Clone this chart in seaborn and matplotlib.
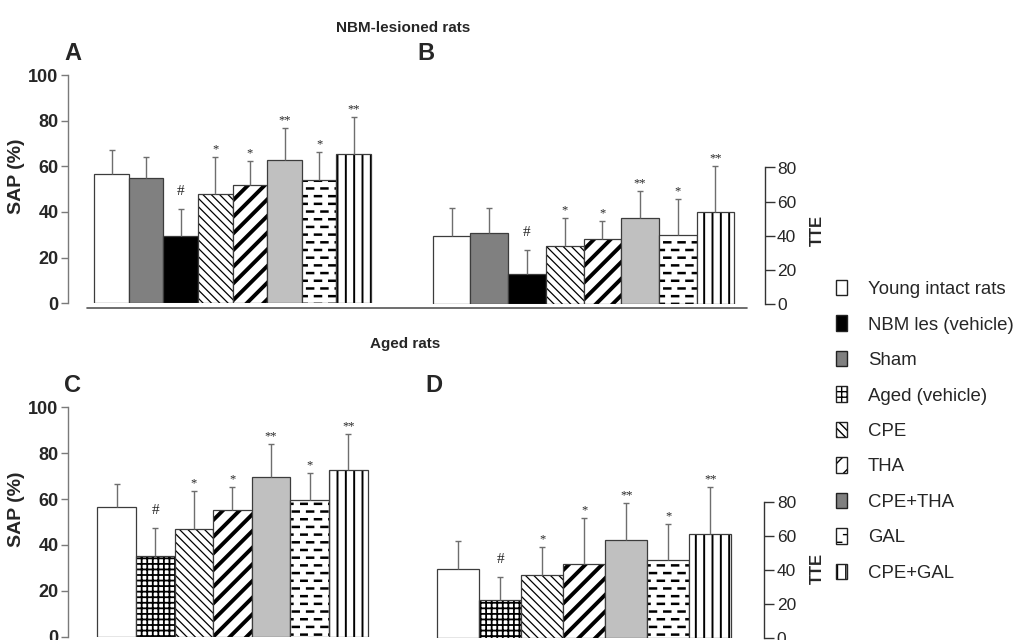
import warnings
import numpy as np
import pandas as pd
import matplotlib
matplotlib.use("Agg")
import matplotlib.pyplot as plt
import matplotlib.hatch as mhatch
from matplotlib.lines import Line2D
from matplotlib.patches import Patch
from matplotlib.path import Path
import seaborn as sns

warnings.filterwarnings("ignore")

# ---------------- data ----------------
lesion_groups = ["Young intact rats", "Sham", "NBM les (vehicle)", "CPE", "THA",
                 "CPE+THA", "GAL", "CPE+GAL"]
aged_groups = ["Young intact rats", "Aged (vehicle)", "CPE", "THA",
               "CPE+THA", "GAL", "CPE+GAL"]

sap_lesion_mean = [56.8, 54.9, 29.3, 48.0, 51.8, 62.8, 54.2, 65.4]
sap_lesion_sem = [10.2, 9.2, 12.2, 16.1, 10.4, 13.8, 11.9, 16.1]
tte_lesion_mean = [40.1, 41.5, 17.7, 34.1, 38.4, 50.5, 40.3, 54.2]
tte_lesion_sem = [16.0, 14.6, 14.1, 16.4, 10.5, 15.9, 21.5, 26.5]

sap_aged_mean = [56.7, 35.3, 47.1, 55.2, 69.5, 59.4, 72.5]
sap_aged_sem = [9.7, 12.1, 16.4, 10.1, 14.5, 12.0, 15.7]
tte_aged_mean = [40.2, 22.2, 36.9, 43.2, 57.5, 45.5, 61.0]
tte_aged_sem = [16.7, 13.7, 16.5, 27.4, 21.7, 21.4, 27.4]

lesion_marks = ["", "", "#", "*", "*", "**", "*", "**"]
aged_marks = ["", "#", "*", "*", "**", "*", "**"]

legend_labels = ["Young intact rats", "NBM les (vehicle)", "Sham", "Aged (vehicle)",
                 "CPE", "THA", "CPE+THA", "GAL", "CPE+GAL"]
sap_ticks = [0, 20, 40, 60, 80, 100]
tte_ticks = [0, 20, 40, 60, 80]


# ------------- custom dashed hatch ('d') -------------
class DashHatch(mhatch.HatchPatternBase):
    def __init__(self, hatch, density):
        self.nr, self.nc = 13, 7
        self.num_vertices = self.nr * self.nc * 2 if hatch.count("d") else 0

    def set_vertices_and_codes(self, vertices, codes):
        k = 0
        for i in range(self.nr):
            y = (i + 0.5) / self.nr
            off = 0.5 if i % 2 else 0.05
            for j in range(self.nc):
                x0 = (j + off) / self.nc
                x1 = x0 + 0.42 / self.nc
                vertices[k] = (x0, y)
                vertices[k + 1] = (x1, y)
                codes[k] = Path.MOVETO
                codes[k + 1] = Path.LINETO
                k += 2


mhatch._hatch_types.append(DashHatch)

# style: facecolor, hatch, hatch linewidth
style = {
    "Young intact rats": ("white", "", 1.0),
    "Sham": ("#808080", "", 1.0),
    "NBM les (vehicle)": ("black", "", 1.0),
    "Aged (vehicle)": ("white", "+++", 1.3),
    "CPE": ("white", "\\\\\\\\", 0.9),
    "THA": ("white", "//", 2.8),
    "CPE+THA": ("#c0c0c0", "", 1.0),
    "GAL": ("white", "d", 1.8),
    "CPE+GAL": ("white", "||", 1.4),
}
legend_face = {"CPE+THA": "#808080"}

sns.set_theme(style="white")
plt.rcParams["font.family"] = ["Liberation Sans", "DejaVu Sans"]

W, H = 1013, 640
fig = plt.figure(figsize=(W / 100, H / 100), dpi=100)


def px_axes(l, t, r, b):
    return fig.add_axes([l / W, 1 - b / H, (r - l) / W, (b - t) / H])


def set_hatch(p, hatch, hlw):
    p.set_hatch(hatch)
    if hasattr(p, "set_hatch_linewidth"):
        p.set_hatch_linewidth(hlw)
    if hasattr(p, "set_hatchcolor"):
        p.set_hatchcolor("black")
    else:
        p._hatch_color = (0, 0, 0, 1)


def draw(ax, groups, mean, sem, marks):
    df = pd.DataFrame({"group": groups, "value": mean})
    pal = {g: style[g][0] for g in groups}
    sns.barplot(data=df, x="group", y="value", hue="group", order=groups,
                hue_order=groups, palette=pal, width=1.0, saturation=1,
                edgecolor="#3c3c3c", linewidth=0.9, legend=False,
                errorbar=None, ax=ax)
    for p, g in zip(ax.patches, groups):
        set_hatch(p, style[g][1], style[g][2])
    x = np.arange(len(groups))
    eb = ax.errorbar(x, mean, yerr=[np.zeros(len(groups)), sem], fmt="none",
                     ecolor="#6e6e6e", elinewidth=1.0, capsize=2.3,
                     capthick=1.0, zorder=3)
    eb[1][0].set_visible(False)
    for xi, m, s, mk in zip(x, mean, sem, marks):
        if not mk:
            continue
        if mk == "#":
            ax.annotate(mk, (xi, m + s), xytext=(0, 12.5), textcoords="offset points",
                        ha="center", va="center", fontsize=11,
                        family=["Liberation Serif", "DejaVu Serif"])
        else:
            ax.annotate(mk, (xi, m + s), xytext=(0, 5.5), textcoords="offset points",
                        ha="center", va="center", fontsize=9,
                        family=["Liberation Serif", "DejaVu Serif"])
    ax.set_xticks([])
    ax.set_xlabel("")
    ax.set_ylabel("")
    ax.set_facecolor("none")
    for s in ("top", "bottom"):
        ax.spines[s].set_visible(False)


def left_axis(ax):
    ax.spines["right"].set_visible(False)
    ax.spines["left"].set_color("#7a7a7a")
    ax.spines["left"].set_linewidth(1.0)
    ax.spines["left"].set_bounds(0, 100)
    ax.set_ylim(0, 100)
    ax.set_yticks(sap_ticks, labels=[str(t) for t in sap_ticks], fontweight="bold")
    ax.tick_params(axis="y", left=True, direction="out", length=5, width=1.0,
                   color="#7a7a7a", labelsize=13, pad=2)
    ax.set_ylabel("SAP (%)", fontsize=14, fontweight="bold")
    ax.yaxis.set_label_coords(-0.139, 0.555)


def right_axis(ax, ymax, label_y):
    ax.spines["left"].set_visible(False)
    ax.spines["right"].set_visible(True)
    ax.spines["right"].set_color("#333333")
    ax.spines["right"].set_linewidth(1.0)
    ax.spines["right"].set_bounds(0, 80)
    ax.set_ylim(0, ymax)
    ax.yaxis.tick_right()
    ax.yaxis.set_label_position("right")
    ax.set_yticks(tte_ticks, labels=[str(t) for t in tte_ticks])
    ax.tick_params(axis="y", right=True, left=False, direction="out", length=7,
                   width=1.0, color="#333333", labelsize=12.5, pad=2)
    ax.set_ylabel("TTE", fontsize=12, fontweight="bold", rotation=90)
    ax.yaxis.set_label_coords(1.132, label_y)


# Panel A
axA = px_axes(68.3, 75.0, 379.7, 303.3)
draw(axA, lesion_groups, sap_lesion_mean, sap_lesion_sem, lesion_marks)
axA.set_xlim(-1.25, 7.75)
left_axis(axA)

# Panel B
axB = px_axes(420, 75.8, 764.5, 304.3)
draw(axB, lesion_groups, tte_lesion_mean, tte_lesion_sem, lesion_marks)
axB.set_xlim(-0.837, 8.30)
right_axis(axB, 228.5 / 1.71, 0.325)

# Panel C
axC = px_axes(68.3, 407.3, 380, 636.7)
draw(axC, aged_groups, sap_aged_mean, sap_aged_sem, aged_marks)
axC.set_xlim(-1.25, 6.82)
left_axis(axC)

# Panel D
axD = px_axes(420, 408.3, 764.3, 637.7)
draw(axD, aged_groups, tte_aged_mean, tte_aged_sem, aged_marks)
axD.set_xlim(-0.912, 7.286)
right_axis(axD, 229.4 / 1.70, 0.30)

# baseline under top row
fig.add_artist(Line2D([86.7 / W, 746.7 / W], [1 - 308.3 / H] * 2,
                      color="#555555", lw=1.2))

# titles and panel letters
fig.text(403 / W, 1 - 28 / H, "NBM-lesioned rats", ha="center", va="center",
         fontsize=11, fontweight="bold")
fig.text(405 / W, 1 - 344 / H, "Aged rats", ha="center", va="center",
         fontsize=11, fontweight="bold")
for letter, (lx, ly) in {"A": (64, 53), "B": (417, 53), "C": (64, 385),
                         "D": (425, 385)}.items():
    fig.text(lx / W, 1 - ly / H, letter, ha="left", va="center",
             fontsize=17, fontweight="bold")

# legend
handles = []
for lab in legend_labels:
    fc, hatch, hlw = style[lab]
    fc = legend_face.get(lab, fc)
    p = Patch(facecolor=fc, edgecolor="#222222", linewidth=1.0, label=lab)
    set_hatch(p, hatch, hlw)
    handles.append(p)
fig.legend(handles=handles, labels=legend_labels, loc="upper left",
           bbox_to_anchor=(836 / W, 1 - 280 / H), frameon=False, fontsize=13.4,
           handlelength=0.6, handleheight=0.9, handletextpad=1.1,
           labelspacing=0.93, borderaxespad=0, borderpad=0)

fig.savefig("out.png", dpi=100)
